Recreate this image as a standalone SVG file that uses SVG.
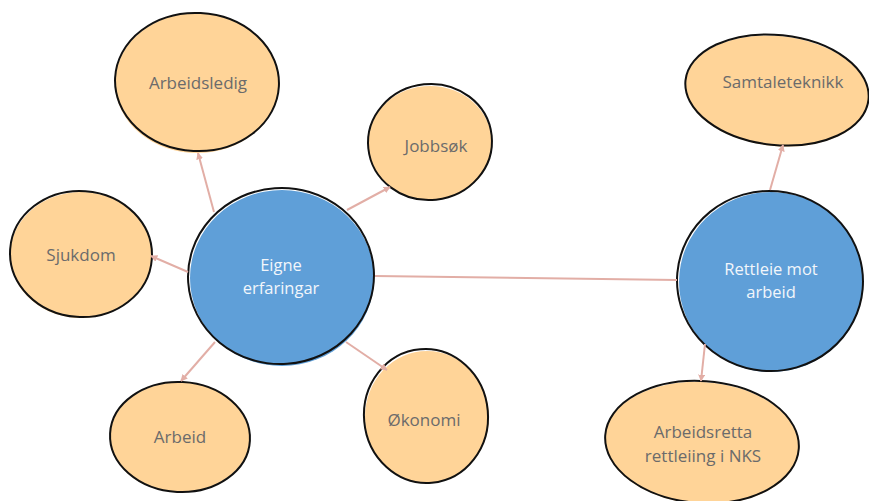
<svg xmlns="http://www.w3.org/2000/svg" width="869" height="501" viewBox="0 0 869 501">
  <defs>
    <marker id="arrow" viewBox="0 0 10 10" refX="9" refY="5" markerWidth="7" markerHeight="7" orient="auto" markerUnits="userSpaceOnUse">
      <path d="M0,0 L10,5 L0,10 z" fill="#e2aea6"/>
    </marker>
    <style>
      .topic { fill: #ffd498; }
      .hub { fill: #5f9fd8; }
      .outline { fill: none; stroke: #111; stroke-width: 2; }
      .link { stroke: #e2aea6; stroke-width: 2; fill: none; }
      .label { font-family: "Open Sans", "Liberation Sans", sans-serif; font-size: 17px; fill: #6b6b6b; text-anchor: middle; }
      .hub-label { font-family: "Open Sans", "Liberation Sans", sans-serif; font-size: 16.5px; fill: #f2f6fb; text-anchor: middle; }
    </style>
  </defs>

  <rect width="869" height="501" fill="#ffffff"/>

  <!-- central hubs -->
  <g id="eigne-erfaringar">
    <ellipse class="hub" cx="282" cy="278" rx="92" ry="88"/>
    <ellipse class="outline" cx="281" cy="276" rx="93" ry="88" transform="rotate(-4 281 276)"/>
    <text class="hub-label" x="281" y="271">Eigne</text>
    <text class="hub-label" x="281" y="294">erfaringar</text>
  </g>

  <g id="rettleie-mot-arbeid">
    <ellipse class="hub" cx="771" cy="282" rx="92" ry="90"/>
    <ellipse class="outline" cx="770" cy="281" rx="93" ry="90" transform="rotate(5 770 281)"/>
    <text class="hub-label" x="771" y="275">Rettleie mot</text>
    <text class="hub-label" x="771" y="298">arbeid</text>
  </g>

  <!-- topics -->
  <g id="arbeidsledig">
    <ellipse class="topic" cx="197" cy="83" rx="82" ry="70"/>
    <ellipse class="outline" cx="197" cy="82" rx="82" ry="69" transform="rotate(3 197 82)"/>
    <text class="label" x="198" y="89">Arbeidsledig</text>
  </g>

  <g id="jobbsok">
    <ellipse class="topic" cx="430" cy="143" rx="62" ry="57"/>
    <ellipse class="outline" cx="430" cy="142" rx="62" ry="58" transform="rotate(-6 430 142)"/>
    <text class="label" x="436" y="152">Jobbsøk</text>
  </g>

  <g id="sjukdom">
    <ellipse class="topic" cx="81" cy="255" rx="71" ry="63"/>
    <ellipse class="outline" cx="81" cy="254" rx="71" ry="63" transform="rotate(4 81 254)"/>
    <text class="label" x="81" y="261">Sjukdom</text>
  </g>

  <g id="arbeid">
    <ellipse class="topic" cx="180" cy="437" rx="70" ry="55"/>
    <ellipse class="outline" cx="180" cy="437" rx="70" ry="55" transform="rotate(3 180 437)"/>
    <text class="label" x="180" y="443">Arbeid</text>
  </g>

  <g id="okonomi">
    <ellipse class="topic" cx="427" cy="417" rx="62" ry="66"/>
    <ellipse class="outline" cx="426" cy="416" rx="62" ry="67" transform="rotate(-5 426 416)"/>
    <text class="label" x="424" y="426">Økonomi</text>
  </g>

  <g id="samtaleteknikk">
    <ellipse class="topic" cx="777" cy="91" rx="92" ry="55" transform="rotate(6 777 91)"/>
    <ellipse class="outline" cx="777" cy="90" rx="92" ry="55" transform="rotate(6 777 90)"/>
    <text class="label" x="783" y="88">Samtaleteknikk</text>
  </g>

  <g id="arbeidsretta-rettleiing">
    <ellipse class="topic" cx="702" cy="443" rx="97" ry="61" transform="rotate(4 702 443)"/>
    <ellipse class="outline" cx="702" cy="442" rx="97" ry="61" transform="rotate(4 702 442)"/>
    <text class="label" x="703" y="438">Arbeidsretta</text>
    <text class="label" x="703" y="462">rettleiing i NKS</text>
  </g>

  <!-- connectors -->
  <g id="connectors">
    <line class="link" x1="214" y1="212" x2="198" y2="153" marker-end="url(#arrow)"/>
    <line class="link" x1="347" y1="210" x2="390" y2="187" marker-end="url(#arrow)"/>
    <line class="link" x1="188" y1="272" x2="151" y2="256" marker-end="url(#arrow)"/>
    <line class="link" x1="215" y1="342" x2="181" y2="381" marker-end="url(#arrow)"/>
    <line class="link" x1="346" y1="342" x2="387" y2="370" marker-end="url(#arrow)"/>
    <line class="link" x1="375" y1="276" x2="677" y2="280"/>
    <line class="link" x1="770" y1="190" x2="783" y2="145" marker-end="url(#arrow)"/>
    <line class="link" x1="705" y1="344" x2="701" y2="381" marker-end="url(#arrow)"/>
  </g>
</svg>
